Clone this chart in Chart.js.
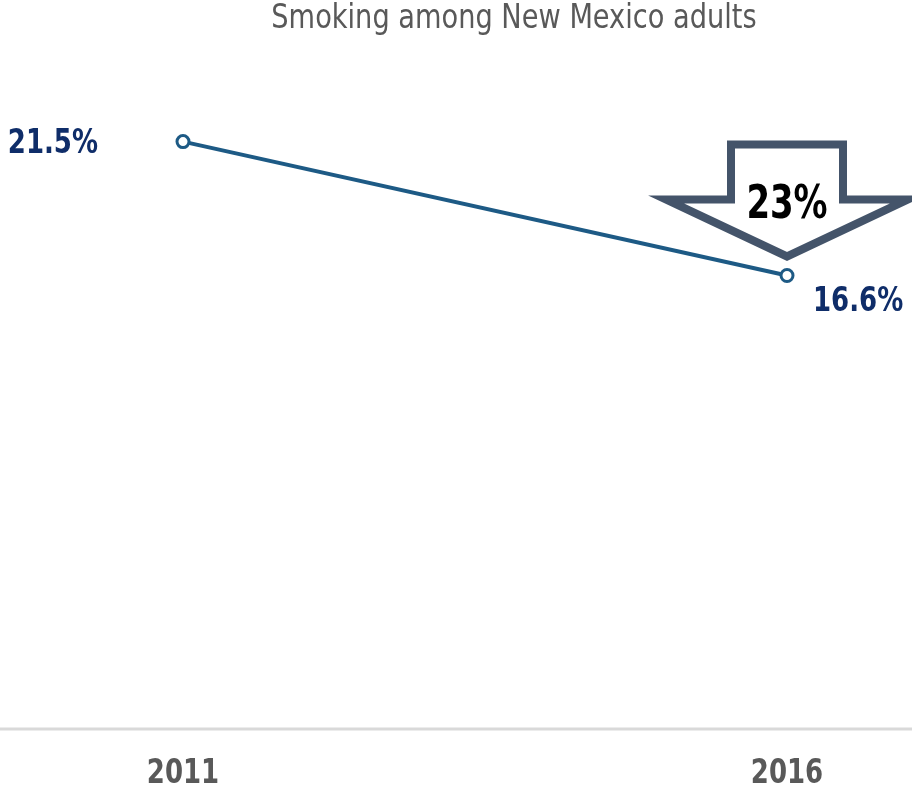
<!DOCTYPE html>
<html lang="en">
<head>
  <meta charset="UTF-8" />
  <title>Smoking among New Mexico adults</title>
  <script src="https://cdn.jsdelivr.net/npm/chart.js"></script>
  <style>
    html, body { margin: 0; padding: 0; background: #fff; }
    #wrap { width: 912px; height: 793px; }
  </style>
</head>
<body>
  <div id="wrap"><canvas id="lineChart"></canvas></div>

  <script>
    const years = ["2011", "2016"];
    const smokingRate = [21.5, 16.6];
    const yRange = [0, 25];
    const titleText = "Smoking among New Mexico adults";

    const narrow = "'Liberation Sans Narrow', 'DejaVu Sans Condensed', sans-serif";

    // the original font is a tall condensed face, so squeeze the text sideways
    const squeezeText = (ctx, text, x, y, font, color, align, sx) => {
      ctx.save();
      ctx.font = font;
      ctx.fillStyle = color;
      ctx.textAlign = align;
      ctx.textBaseline = "middle";
      ctx.translate(x, y);
      ctx.scale(sx, 1);
      ctx.fillText(text, 0, 0);
      ctx.restore();
    };

    // title, axis line + year labels, value labels and the drop arrow
    const extras = {
      id: "extras",
      afterDraw(chart) {
        const ctx = chart.ctx;
        const x = chart.scales.x, y = chart.scales.y;
        const meta = chart.getDatasetMeta(0);
        const p0 = meta.data[0], p1 = meta.data[1];

        squeezeText(ctx, titleText, 514, 19, "34px " + narrow, "#595959", "center", 0.89);

        // axis line
        const y0 = y.getPixelForValue(0);
        ctx.save();
        ctx.strokeStyle = "#d9d9d9";
        ctx.lineWidth = 3;
        ctx.beginPath();
        ctx.moveTo(0, y0);
        ctx.lineTo(chart.width, y0);
        ctx.stroke();
        ctx.restore();

        years.forEach((yr, i) => {
          squeezeText(ctx, yr, x.getPixelForValue(i), y0 + 45, "bold 34px " + narrow, "#595959", "center", 0.85);
        });

        // value labels
        squeezeText(ctx, smokingRate[0].toFixed(1) + "%", p0.x - 85, p0.y + 3, "bold 34px " + narrow, "#0f2d69", "right", 0.85);
        squeezeText(ctx, smokingRate[1].toFixed(1) + "%", p1.x + 26, p1.y + 27, "bold 34px " + narrow, "#0f2d69", "left", 0.85);

        // drop arrow above the 2016 point
        const cx = p1.x, tip = p1.y - 19;
        ctx.save();
        ctx.beginPath();
        ctx.moveTo(cx - 56, tip - 112);
        ctx.lineTo(cx + 56, tip - 112);
        ctx.lineTo(cx + 56, tip - 57);
        ctx.lineTo(cx + 121, tip - 57);
        ctx.lineTo(cx, tip);
        ctx.lineTo(cx - 121, tip - 57);
        ctx.lineTo(cx - 56, tip - 57);
        ctx.closePath();
        ctx.fillStyle = "#ffffff";
        ctx.fill();
        ctx.strokeStyle = "#44546a";
        ctx.lineWidth = 8;
        ctx.stroke();
        ctx.restore();

        const drop = Math.round((smokingRate[0] - smokingRate[1]) / smokingRate[0] * 100);
        squeezeText(ctx, drop + "%", cx, tip - 50, "bold 46px " + narrow, "#000000", "center", 0.82);
      }
    };

    new Chart(document.getElementById("lineChart"), {
      type: "line",
      data: {
        labels: years,
        datasets: [{
          label: "Smoking",
          data: smokingRate,
          borderColor: "#1d5a85",
          borderWidth: 4,
          pointRadius: 6,
          pointBorderWidth: 3,
          pointBackgroundColor: "#ffffff",
          pointBorderColor: "#1d5a85",
          tension: 0
        }]
      },
      options: {
        responsive: true,
        maintainAspectRatio: false,
        animation: false,
        layout: { padding: { left: 183, right: 125, top: 46, bottom: 64 } },
        plugins: {
          legend: { display: false },
          title: { display: false },
          tooltip: { enabled: false }
        },
        scales: {
          x: {
            offset: false,
            grid: { display: false, drawTicks: false },
            border: { display: false },
            ticks: { display: false }
          },
          y: {
            display: false,
            min: yRange[0],
            max: yRange[1]
          }
        }
      },
      plugins: [extras]
    });
  </script>
</body>
</html>
